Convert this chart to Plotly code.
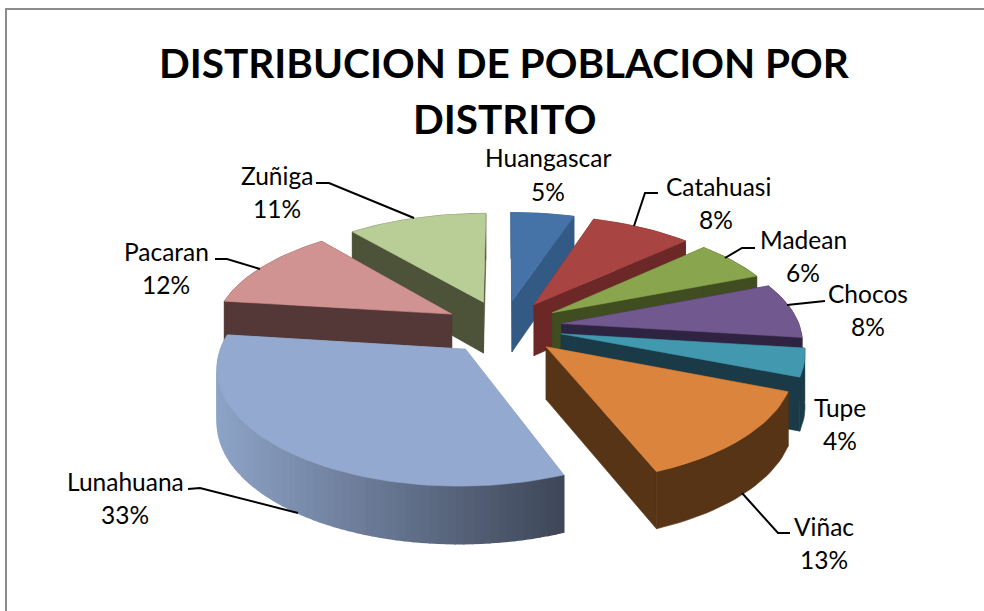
import math
import plotly.graph_objects as go

# --- data ---
districts = ["Huangascar", "Catahuasi", "Madean", "Chocos", "Tupe", "Viñac", "Lunahuana", "Pacaran", "Zuñiga"]
shares = [5, 8, 6, 8, 4, 13, 33, 12, 11]

# --- styling ---
top_colors = ["#4573a7", "#a84442", "#89a54e", "#71588f", "#4298af", "#db843d", "#93a9cf", "#d19392", "#b9cd96"]
wall_colors = ["#325a85", "#6b2827", "#3f4d20", "#2e2340", "#1a3a47", "#583416", "#93a9cf", "#543737", "#4d5338"]
draw_order = [0, 1, 2, 3, 4, 5, 8, 7, 6]

# projection of the pie plane on the page
CX, CY, RX, RY = 503, 327, 238, 109
KX, KY, EXPLODE, DEPTH = 0.14, 0.15, 0.25, 52


def project(X, Y, drop=False):
    sx = CX + RX * X / (1 + KX * Y)
    sy = CY - RY * Y / (1 + KY * Y)
    if drop:
        sy += DEPTH * (1 - 0.09 * Y)
    return sx, sy


def polygon(points, color, width=0.6):
    return go.Scatter(
        x=[p[0] for p in points] + [points[0][0]],
        y=[p[1] for p in points] + [points[0][1]],
        mode="lines", fill="toself", fillcolor=color,
        line=dict(color=color, width=width),
        hoverinfo="skip", showlegend=False,
    )


def mix(c1, c2, t):
    a = [int(c1[i:i + 2], 16) for i in (1, 3, 5)]
    b = [int(c2[i:i + 2], 16) for i in (1, 3, 5)]
    return "rgb(%d,%d,%d)" % tuple(round(u + (v - u) * t) for u, v in zip(a, b))


# slice angle spans from the values
total = sum(shares)
spans = []
acc = 0
for v in shares:
    spans.append((acc / total * 2 * math.pi, (acc + v) / total * 2 * math.pi))
    acc += v

fig = go.Figure()
for i in draw_order:
    a0, a1 = spans[i]
    mid = (a0 + a1) / 2
    ox, oy = EXPLODE * math.sin(mid), EXPLODE * math.cos(mid)
    n = max(4, int((a1 - a0) / 0.03))
    plane = [(ox + math.sin(a0 + (a1 - a0) * k / n), oy + math.cos(a0 + (a1 - a0) * k / n)) for k in range(n + 1)]
    top = [project(*p) for p in plane]
    low = [project(*p, drop=True) for p in plane]
    apex, apex_low = project(ox, oy), project(ox, oy, drop=True)
    wall = wall_colors[i]
    # radial walls
    fig.add_trace(polygon([apex, top[0], low[0], apex_low], wall))
    fig.add_trace(polygon([apex, top[-1], low[-1], apex_low], wall))
    # rim wall
    if districts[i] == "Lunahuana":
        for k in range(n):
            t = max(0.0, min(1.0, (top[k][0] - 215) / 353))
            fig.add_trace(polygon([top[k], top[k + 1], low[k + 1], low[k]], mix("#8ea4c8", "#3e4658", t), 1.5))
    else:
        fig.add_trace(polygon(top + low[::-1], wall))
    # top face
    fig.add_trace(polygon([apex] + top, top_colors[i]))

# --- text placement (page pixels) ---
name_pos = [(548, 157), (718, 186), (803, 239), (868, 293), (840, 407), (824, 526), (125, 481), (166, 251), (277, 175)]
pct_pos = [(548, 191), (716, 219), (803, 272), (868, 326), (840, 440), (824, 559), (125, 514), (166, 284), (277, 208)]
leaders = [
    None,
    [(658, 193), (645, 193), (634, 226)],
    [(755, 248), (742, 248), (725, 258)],
    [(825, 301), (787, 305)],
    None,
    [(790, 533), (778, 533), (742, 493)],
    [(188, 489), (200, 488), (298, 513)],
    [(215, 259), (227, 259), (260, 269)],
    [(316, 183), (329, 183), (414, 218)],
]

FONT = "Lato, Carlito, Calibri, sans-serif"
for name, pct, np_, pp in zip(districts, shares, name_pos, pct_pos):
    for text, (x, y) in ((name, np_), (f"{pct}%", pp)):
        fig.add_annotation(x=x, y=y, xref="x", yref="y", text=text, showarrow=False,
                           xanchor="center", yanchor="middle",
                           font=dict(family=FONT, size=24.5, color="#000000"))

for path in leaders:
    if path:
        fig.add_shape(type="path", xref="x", yref="y",
                      path="M " + " L ".join(f"{x},{y}" for x, y in path),
                      line=dict(color="#000000", width=2))

# chart frame
fig.add_shape(type="path", xref="x", yref="y", path="M 6,611 L 6,9 L 984,9",
              line=dict(color="#8c8c8c", width=2))

fig.add_annotation(x=504, y=62, xref="x", yref="y", text="<b>DISTRIBUCION DE POBLACION POR</b>",
                   showarrow=False, xanchor="center", yanchor="middle",
                   font=dict(family=FONT, size=40.5, color="#000000"))
fig.add_annotation(x=504, y=118, xref="x", yref="y", text="<b>DISTRITO</b>",
                   showarrow=False, xanchor="center", yanchor="middle",
                   font=dict(family=FONT, size=40.5, color="#000000"))

fig.update_layout(
    width=984, height=611,
    margin=dict(l=0, r=0, t=0, b=0),
    paper_bgcolor="#ffffff", plot_bgcolor="#ffffff",
    xaxis=dict(range=[0, 984], visible=False, fixedrange=True),
    yaxis=dict(range=[611, 0], visible=False, fixedrange=True),
    showlegend=False,
)
fig.write_html("out.html", config={"displayModeBar": False},
               post_script="document.body.style.margin='0';document.body.style.overflow='hidden';")
